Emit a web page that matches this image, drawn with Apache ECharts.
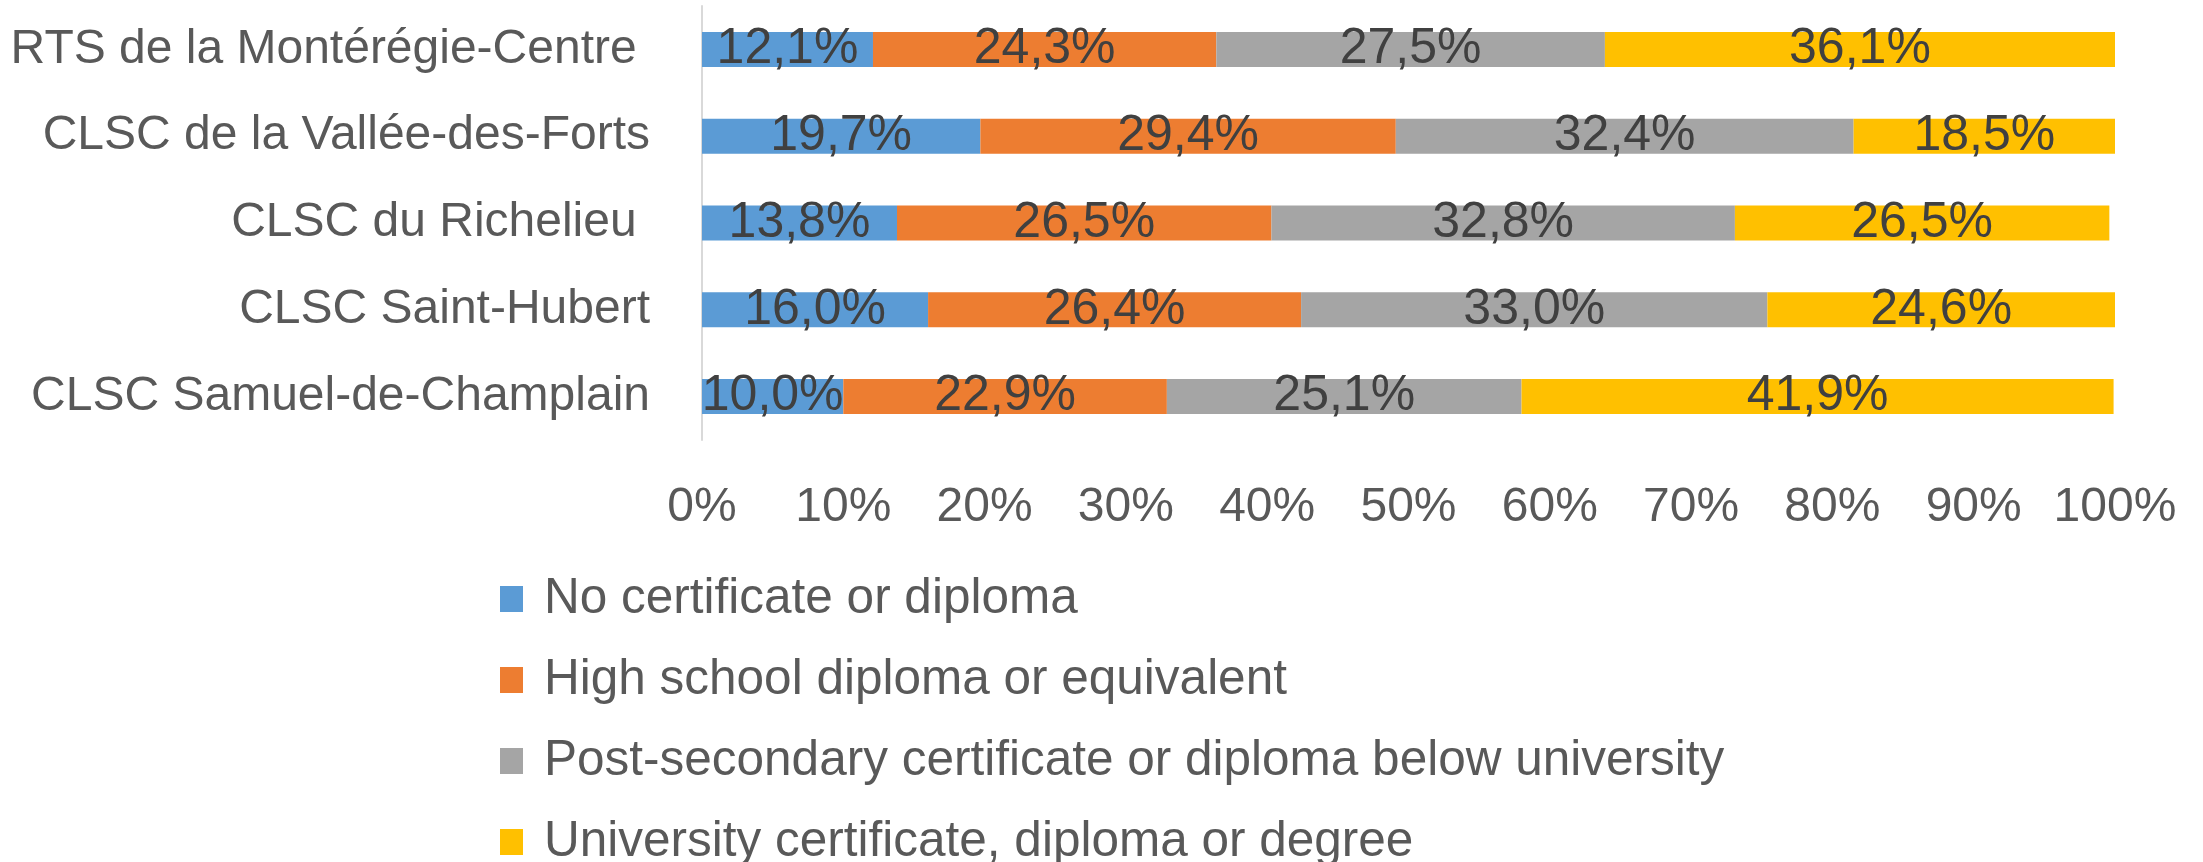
<!DOCTYPE html>
<html><head><meta charset="utf-8">
<script src="https://cdn.jsdelivr.net/npm/echarts@6/dist/echarts.min.js"></script>
<style>html,body{margin:0;padding:0;background:#fff}#c{width:2203px;height:862px}</style>
</head><body><div id="c"></div>
<script>
const categories = ['RTS de la Montérégie-Centre ', 'CLSC de la Vallée-des-Forts', 'CLSC du Richelieu ', 'CLSC Saint-Hubert', 'CLSC Samuel-de-Champlain'];
const seriesNames = ['No certificate or diploma', 'High school diploma or equivalent', 'Post-secondary certificate or diploma below university', 'University certificate, diploma or degree'];
const noCertificate = [12.1, 19.7, 13.8, 16.0, 10.0];
const highSchool = [24.3, 29.4, 26.5, 26.4, 22.9];
const postSecondary = [27.5, 32.4, 32.8, 33.0, 25.1];
const university = [36.1, 18.5, 26.5, 24.6, 41.9];
const tickLabels = ['0%','10%','20%','30%','40%','50%','60%','70%','80%','90%','100%'];
const colors = ['#5B9BD5', '#ED7D31', '#A5A5A5', '#FFC000'];
const FONT = '"Liberation Sans", Arial, sans-serif';

const values = [noCertificate, highSchool, postSecondary, university];
const chart = echarts.init(document.getElementById('c'), null, {renderer: 'canvas'});
chart.setOption({
  animation: false,
  color: colors,
  textStyle: {fontFamily: FONT},
  grid: {left: 702, right: 88, top: 6, height: 434, containLabel: false},
  xAxis: {
    type: 'value', min: 0, max: 100, interval: 10,
    axisLine: {show: false}, axisTick: {show: false}, splitLine: {show: false},
    axisLabel: {color: '#595959', fontSize: 48, fontFamily: FONT, margin: 44,
      formatter: v => tickLabels[Math.round(v / 10)]}
  },
  yAxis: {
    type: 'category', data: categories, inverse: true,
    axisLine: {show: true, lineStyle: {color: '#D9D9D9', width: 2}},
    axisTick: {show: false},
    axisLabel: {color: '#595959', fontSize: 48, fontFamily: FONT, margin: 52}
  },
  legend: {
    orient: 'vertical', left: 500, top: 574, height: 400, itemGap: 31, padding: 0,
    itemWidth: 23, itemHeight: 26, icon: 'rect',
    textStyle: {color: '#595959', fontSize: 49.5, fontFamily: FONT, padding: [0,0,0,16]},
    data: seriesNames
  },
  series: seriesNames.map((n, i) => ({
    name: n, type: 'bar', stack: 'total', data: values[i],
    barWidth: 35,
    label: {show: true, position: 'inside', color: '#404040', fontSize: 50, fontFamily: FONT,
      formatter: p => p.value.toFixed(1).replace('.', ',') + '%'}
  }))
});
</script></body></html>
